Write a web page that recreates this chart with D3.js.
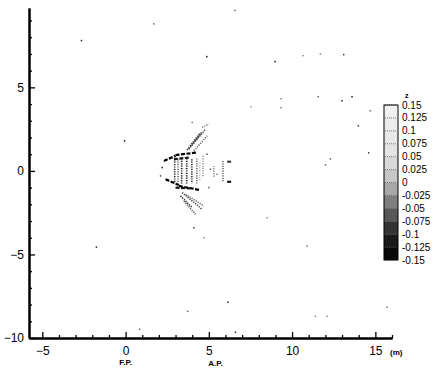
<!DOCTYPE html>
<html>
<head>
<meta charset="utf-8">
<script src="https://cdn.jsdelivr.net/npm/d3@7"></script>
<style>
 body { margin: 0; background: #fff; }
 text { font-family: "Liberation Sans", Arial, sans-serif; }
</style>
</head>
<body>
<div id="container"></div>
<script>
// wave height contour (scanned style)

const width = 446,
 height = 368

// contour levels for z
const levels = [0.15, 0.125, 0.1, 0.075, 0.05, 0.025, 0, -0.025, -0.05, -0.075, -0.1, -0.125, -0.15]
const levelLabels = ["0.15", "0.125", "0.1", "0.075", "0.05", "0.025", "0", "-0.025", "-0.05", "-0.075", "-0.1", "-0.125", "-0.15"]

const xTicks = [-5, 0, 5, 10, 15]
const yTicks = [-10, -5, 0, 5]

// isolated contour dots: [x, y, z]
const dots = [
 [-2.65, 7.8, -0.1], [1.69, 8.8, -0.05], [6.57, 9.6, -0.05], [4.88, 6.84, -0.1],
 [8.98, 6.54, -0.12], [10.66, 6.9, -0.03], [11.7, 7.0, -0.03], [13.1, 6.96, -0.08],
 [9.34, 4.32, -0.04], [9.34, 3.78, -0.04], [7.53, 3.84, -0.02], [11.57, 4.44, -0.05],
 [13.0, 4.2, -0.1], [13.6, 4.44, -0.1], [13.98, 2.7, -0.08], [14.6, 1.08, -0.08],
 [12.3, 0.72, -0.06], [12.0, 0.36, -0.06], [-0.06, 1.8, -0.12], [14.7, 3.6, -0.05],
 [-1.75, -4.56, -0.1], [6.14, -7.86, -0.1], [3.73, -8.4, -0.05], [0.84, -9.48, -0.05],
 [11.4, -8.7, -0.03], [12.1, -8.7, -0.03], [15.7, -8.16, -0.04], [6.6, -9.66, -0.1],
 [10.9, -4.5, -0.04], [4.7, -4.0, -0.03], [8.5, -2.8, -0.03], [5.1, 0.1, -0.05],
 [5.5, -0.2, -0.04], [4.1, -3.4, -0.08], [2.2, 0.2, -0.1], [2.1, -0.3, -0.08],
 [4.9, 1.0, -0.06], [5.0, -1.0, -0.06], [4.0, 2.9, -0.04]
]

// contour streaks around the hull: [x1, y1, x2, y2, z]
const streaks = [
 [2.95, 0.7, 2.95, -0.75, -0.1], [3.15, 0.7, 3.15, -0.75, -0.05], [3.37, 0.75, 3.37, -0.8, -0.12],
 [3.67, 0.75, 3.67, -0.8, -0.12], [3.98, 0.7, 3.98, -0.75, -0.1], [4.28, 0.75, 4.28, -0.75, -0.05],
 [4.45, 0.5, 4.45, -0.6, 0.0], [4.65, 0.9, 4.65, -0.4, -0.02],
 [3.8, 1.3, 4.8, 2.5, -0.08], [3.9, 1.5, 4.6, 2.3, -0.06], [4.1, 1.2, 4.9, 2.1, -0.05],
 [4.6, 2.6, 5.0, 2.8, -0.04], [3.7, 1.25, 4.5, 2.3, -0.1],
 [3.4, -1.3, 4.6, -2.3, -0.08], [3.6, -1.4, 4.7, -2.1, -0.05], [3.5, -1.8, 4.2, -2.6, -0.06],
 [3.3, -1.5, 4.0, -2.2, -0.1],
 [5.85, 0.6, 5.85, -0.7, -0.05], [5.3, 0.3, 5.3, -0.4, -0.03]
]

// darker wave crests: [x1, y1, x2, y2, z]
const crests = [
 [2.3, 0.6, 3.0, 0.9, -0.15], [3.0, 0.95, 4.3, 1.1, -0.15], [2.9, 0.7, 3.8, 0.8, -0.12],
 [2.4, -0.5, 3.2, -0.85, -0.15], [3.2, -0.9, 4.5, -1.15, -0.15], [3.0, -1.0, 4.0, -1.05, -0.12],
 [6.1, 0.55, 6.4, 0.55, -0.08], [6.1, -0.65, 6.4, -0.65, -0.12]
]

const xScale = d3.scaleLinear().domain([-5.8, 16]).range([29, 392])
const yScale = d3.scaleLinear().domain([-10, 9.75]).range([338, 8])

const colorScale = d3.scaleLinear()
 .domain([-0.15, -0.1, -0.05, 0, 0.05, 0.15])
 .range(["#000000", "#222222", "#6a6a6a", "#bdbdbd", "#e2e2e2", "#f2f2f2"])

const svg = d3.select("#container")
 .append("svg")
 .attr("width", width)
 .attr("height", height)

// streaks (dotted)
svg.selectAll(".streak")
 .data(streaks)
 .join("line")
 .attr("class", "streak")
 .attr("x1", d => xScale(d[0]))
 .attr("y1", d => yScale(d[1]))
 .attr("x2", d => xScale(d[2]))
 .attr("y2", d => yScale(d[3]))
 .attr("stroke", d => colorScale(d[4]))
 .attr("stroke-width", 1.6)
 .attr("stroke-dasharray", "1.2,1.2")

svg.selectAll(".crest")
 .data(crests)
 .join("line")
 .attr("class", "crest")
 .attr("x1", d => xScale(d[0]))
 .attr("y1", d => yScale(d[1]))
 .attr("x2", d => xScale(d[2]))
 .attr("y2", d => yScale(d[3]))
 .attr("stroke", d => colorScale(d[4]))
 .attr("stroke-width", 2.2)
 .attr("stroke-dasharray", "4,1.5")

svg.selectAll(".dot")
 .data(dots)
 .join("rect")
 .attr("class", "dot")
 .attr("x", d => xScale(d[0]) - 0.75)
 .attr("y", d => yScale(d[1]) - 0.75)
 .attr("width", 1.5)
 .attr("height", 1.5)
 .attr("fill", d => colorScale(d[2]))

// axes, ticks pointing inward
const xAxis = d3.axisBottom(xScale)
 .tickValues(xTicks)
 .tickSizeInner(-6)
 .tickSizeOuter(0)
 .tickPadding(8)
 .tickFormat(d3.format("d"))

const xMinor = d3.axisBottom(xScale)
 .tickValues(d3.range(-5, 17, 1).filter(v => v % 5 !== 0))
 .tickSizeInner(-3)
 .tickSizeOuter(0)
 .tickFormat("")

const yAxis = d3.axisLeft(yScale)
 .tickValues(yTicks)
 .tickSizeInner(-6)
 .tickSizeOuter(0)
 .tickPadding(5)
 .tickFormat(d3.format("d"))

const yMinor = d3.axisLeft(yScale)
 .tickValues(d3.range(-10, 10, 1).filter(v => v % 5 !== 0))
 .tickSizeInner(-3)
 .tickSizeOuter(0)
 .tickFormat("")

const xg = svg.append("g").attr("transform", `translate(0, ${yScale(-10)})`)
xg.call(xMinor)
xg.append("g").call(xAxis)

const yg = svg.append("g").attr("transform", `translate(${xScale(-5.8)}, 0)`)
yg.call(yMinor)
yg.append("g").call(yAxis)

svg.selectAll(".domain").attr("stroke", "#000").attr("stroke-width", 2)
svg.selectAll(".tick line").attr("stroke", "#000").attr("stroke-width", 1.3)
svg.selectAll(".tick text")
 .attr("font-size", 12)
 .attr("font-family", "Liberation Sans, Arial, sans-serif")
 .attr("fill", "#000")

// station labels
svg.append("text")
 .attr("x", xScale(0)).attr("y", 365)
 .attr("text-anchor", "middle")
 .attr("font-size", 8).attr("font-weight", "bold")
 .text("F.P.")

svg.append("text")
 .attr("x", xScale(5.4)).attr("y", 366)
 .attr("text-anchor", "middle")
 .attr("font-size", 8).attr("font-weight", "bold")
 .text("A.P.")

svg.append("text")
 .attr("x", 390).attr("y", 355)
 .attr("font-size", 8).attr("font-weight", "bold")
 .text("(m)")

// legend
const legendScale = d3.scaleLinear().domain([0.15, -0.15]).range([105, 260])
const legendX = 384,
 legendW = 14

const bands = d3.pairs(levels)
svg.selectAll(".band")
 .data(bands)
 .join("rect")
 .attr("class", "band")
 .attr("x", legendX)
 .attr("y", d => legendScale(d[0]))
 .attr("width", legendW)
 .attr("height", d => legendScale(d[1]) - legendScale(d[0]))
 .attr("fill", d => colorScale((d[0] + d[1]) / 2))

svg.selectAll(".bandLine")
 .data(levels)
 .join("line")
 .attr("class", "bandLine")
 .attr("x1", legendX + 1)
 .attr("x2", legendX + legendW - 1)
 .attr("y1", d => legendScale(d))
 .attr("y2", d => legendScale(d))
 .attr("stroke", "#555")
 .attr("stroke-width", 0.8)
 .attr("stroke-dasharray", "1,1")

svg.append("rect")
 .attr("x", legendX)
 .attr("y", legendScale(0.15))
 .attr("width", legendW)
 .attr("height", legendScale(-0.15) - legendScale(0.15))
 .attr("fill", "none")
 .attr("stroke", "#000")
 .attr("stroke-width", 1)

svg.selectAll(".levelLabel")
 .data(levels)
 .join("text")
 .attr("class", "levelLabel")
 .attr("x", legendX + legendW + 4)
 .attr("y", d => legendScale(d) + 3.5)
 .attr("font-size", 10)
 .text((d, i) => levelLabels[i])

svg.append("text")
 .attr("x", legendX + legendW + 7)
 .attr("y", legendScale(0.15) - 7)
 .attr("font-size", 7).attr("font-weight", "bold")
 .text("z")
</script>
</body>
</html>
